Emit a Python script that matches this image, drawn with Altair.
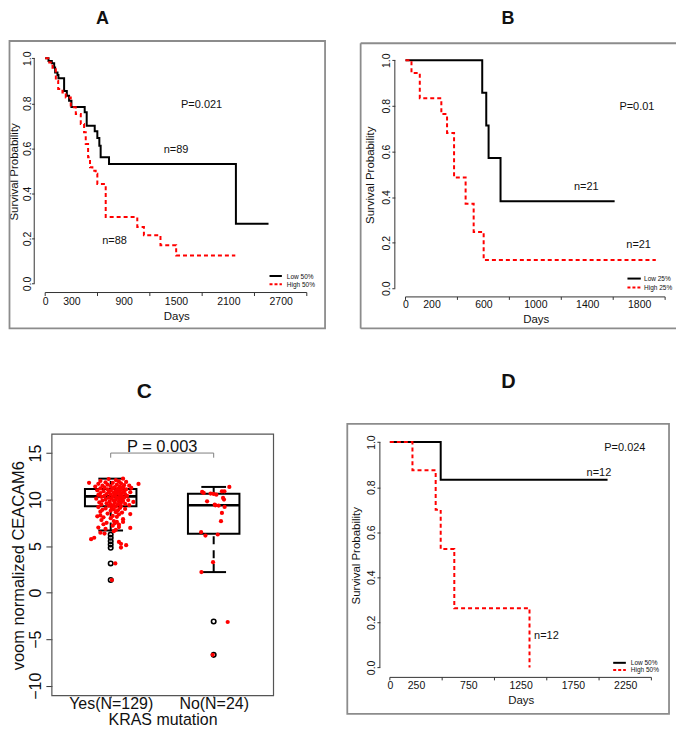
import altair as alt
import pandas as pd

FONT = "Liberation Sans"
AX = "#333333"
BORDER = "#8c8c8c"
RED = "#ff0000"

# ------------------------------------------------------------------ data
panel_letters = ["A", "B", "C", "D"]
surv_ticks = [0.0, 0.2, 0.4, 0.6, 0.8, 1.0]

# Panel A
a_groups = ["Low 50%", "High 50%"]
a_low_days = [0, 38, 76, 103, 114, 141, 152, 217, 248, 274, 301, 453, 476, 568, 598, 621, 636, 732, 2187, 2561]
a_low_surv = [1.0, 0.988, 0.978, 0.959, 0.937, 0.926, 0.911, 0.855, 0.833, 0.811, 0.784, 0.760, 0.700, 0.676,
              0.646, 0.612, 0.560, 0.531, 0.265, 0.265]
a_high_days = [0, 46, 84, 122, 149, 198, 236, 293, 351, 408, 446, 465, 492, 514, 541, 579, 598, 694, 1056, 1132,
               1322, 1502, 2180]
a_high_surv = [1.0, 0.981, 0.951, 0.900, 0.863, 0.848, 0.826, 0.782, 0.752, 0.708, 0.671, 0.619, 0.560, 0.516,
               0.501, 0.487, 0.442, 0.295, 0.251, 0.214, 0.170, 0.125, 0.125]
a_x_ticks = [0, 600, 1200, 1800, 2400, 3000]
a_x_labels = [0, 300, 900, 1500, 2100, 2700]
a_p_text = "P=0.021"
a_n_texts = ["n=89", "n=88"]

# Panel B
b_groups = ["Low 25%", "High 25%"]
b_low_days = [0, 591, 622, 640, 732, 1611]
b_low_surv = [1.0, 0.857, 0.714, 0.571, 0.381, 0.381]
b_high_days = [0, 46, 110, 276, 320, 374, 463, 525, 602, 1928]
b_high_surv = [1.0, 0.944, 0.833, 0.764, 0.681, 0.486, 0.371, 0.247, 0.124, 0.124]
b_x_ticks = [0, 400, 800, 1200, 1600, 2000]
b_x_labels = [0, 200, 600, 1000, 1400, 1800]
b_p_text = "P=0.01"
b_n_texts = ["n=21", "n=21"]

# Panel D
d_groups = ["Low 50%", "High 50%"]
d_low_days = [0, 486, 2081]
d_low_surv = [1.0, 0.833, 0.833]
d_high_days = [0, 216, 438, 486, 616, 1335]
d_high_surv = [1.0, 0.875, 0.70, 0.525, 0.263, 0.0]
d_x_ticks = [0, 500, 1000, 1500, 2000, 2500]
d_x_labels = [0, 250, 750, 1250, 1750, 2250]
d_p_text = "P=0.024"
d_n_texts = ["n=12", "n=12"]

# Panel C (boxplot)
kras_groups = ["Yes(N=129)", "No(N=24)"]
kras_pos = [1, 2]
box_q1 = [9.28, 6.32]
box_med = [10.35, 9.39]
box_q3 = [11.15, 10.64]
box_lo = [6.68, 2.21]
box_hi = [12.25, 11.36]
yes_outliers = [6.24, 5.89, 5.53, 5.18, 4.82, 3.14, 1.36]
no_outliers = [-3.1, -6.68]
c_y_ticks = [-10, -5, 0, 5, 10, 15]
c_p_text = "P = 0.003"
c_bracket_y = 15
c_bracket_leg = 14.5

yes_vals = [
    12.25, 12.2, 12.1, 12.0, 11.95, 11.9, 11.85, 11.8, 11.8, 11.75,
    11.7, 11.68, 11.6, 11.6, 11.55, 11.5, 11.5, 11.45, 11.4, 11.4,
    11.35, 11.3, 11.3, 11.25, 11.2, 11.2, 11.15, 11.1, 11.1, 11.05,
    11.0, 11.0, 10.95, 10.9, 10.9, 10.85, 10.8, 10.8, 10.75, 10.7,
    10.7, 10.65, 10.6, 10.6, 10.55, 10.5, 10.5, 10.45, 10.4, 10.4,
    10.35, 10.3, 10.3, 10.25, 10.2, 10.2, 10.15, 10.1, 10.1, 10.05,
    10.0, 10.0, 9.95, 9.9, 9.9, 9.85, 9.8, 9.8, 9.75, 9.7,
    9.7, 9.65, 9.6, 9.55, 9.5, 9.5, 9.45, 9.4, 9.4, 9.35,
    9.3, 9.25, 9.2, 9.15, 9.1, 9.05, 9.0, 8.95, 8.9, 8.85,
    8.8, 8.7, 8.65, 8.6, 8.5, 8.45, 8.4, 8.3, 8.25, 8.2,
    8.15, 8.1, 8.0, 7.9, 7.8, 7.7, 7.6, 7.5, 7.45, 7.3,
    7.2, 7.0, 6.95, 6.85, 6.75, 6.6, 6.45, 6.35, 5.9, 5.75,
    5.45, 5.25, 5.1, 4.85, 3.14, 1.36, 7.05, 7.35, 7.6]
yes_jit = [
    0.12, -0.02, 0.05, -0.10, 0.08, 0.15, -0.05, -0.21, 0.02, 0.10,
    -0.12, 0.27, 0.06, -0.03, 0.13, -0.08, 0.18, 0.00, 0.09, -0.15,
    0.04, -0.06, 0.12, 0.20, -0.10, 0.02, 0.07, -0.03, 0.15, 0.10,
    -0.13, 0.00, 0.05, -0.07, 0.13, 0.08, -0.02, 0.19, 0.03, -0.10,
    0.11, 0.06, -0.04, 0.14, 0.00, -0.12, 0.09, 0.04, -0.06, 0.16,
    0.02, 0.11, -0.09, 0.06, -0.02, 0.13, 0.08, -0.14, 0.01, 0.10,
    -0.05, 0.05, 0.17, -0.08, 0.03, 0.12, -0.01, 0.08, 0.22, -0.11,
    0.04, 0.10, -0.04, 0.14, 0.00, 0.07, -0.09, 0.18, 0.03, -0.02,
    0.10, 0.05, -0.12, 0.01, 0.09, -0.05, 0.14, 0.03, -0.08, 0.07,
    0.00, -0.10, 0.05, 0.11, -0.03, 0.19, 0.08, -0.10, 0.02, -0.13,
    0.06, -0.07, 0.00, 0.12, -0.09, 0.03, 0.06, -0.04, 0.04, 0.08,
    0.02, -0.12, 0.19, -0.05, 0.05, 0.03, -0.10, -0.06, -0.16, -0.19,
    0.08, 0.10, 0.15, 0.10, 0.045, 0.012, 0.08, -0.07, 0.12]
no_vals = [11.36, 10.82, 10.71, 10.61, 10.53, 10.89, 10.89, 10.18, 10.0, 9.82, 9.46, 9.36, 9.21, 8.57,
           7.68, 6.5, 6.14, 6.25, 3.28, 2.21, -3.15, -6.68, 9.39, 10.65]
no_jit = [0.152, -0.112, -0.097, 0.0, 0.026, 0.08, 0.104, 0.091, 0.1, -0.064, 0.01, 0.048, 0.106, 0.08,
          0.071, -0.122, -0.08, 0.039, -0.006, -0.119, 0.136, -0.01, 0.016, -0.03]

# ------------------------------------------------------------------ layout (page pixel coords)
KM = {
    "A": dict(cell=(8, 8, 336, 352), xmap=(0, 44.3, 3000, 306.7), ymap=(0, 283.3, 1, 57.3),
              yaxis_x=33.3, xaxis_y=292.3, xtick=3.5, ytick=2.7, ylab_pad=1.5, xlab_pad=0.5,
              ytitle=(14, 170.8), xtitle=(175.8, 319), border=(8.5, 40, 325, 328.3), open_right=False,
              p=(201.2, 107.3), n=[(175.5, 152.7), (113.8, 243.3)],
              legend=dict(x1=269.3, x2=281.7, ys=[275.7, 284.0], tx=286.7, tys=[278.3, 286.7]),
              letter=(101.7, 22.5, 18)),
    "B": dict(cell=(344, 8, 333, 352), xmap=(0, 405.7, 2000, 666.1), ymap=(0, 288.0, 1, 59.3),
              yaxis_x=395, xaxis_y=296.7, xtick=3, ytick=3, ylab_pad=2.5, xlab_pad=0,
              ytitle=(370.8, 174.2), xtitle=(536.3, 322.8), border=(360.7, 42.3, 677, 328.3), open_right=True,
              p=(637.8, 109.3), n=[(587, 189.3), (639.5, 247.3)],
              legend=dict(x1=628.3, x2=641.7, ys=[278.3, 287.3], tx=645, tys=[280.7, 290.0]),
              letter=(508.5, 22.5, 18)),
    "D": dict(cell=(344, 360, 333, 369), xmap=(0, 390, 2500, 652.3), ymap=(0, 668.3, 1, 442.3),
              yaxis_x=380, xaxis_y=678.3, xtick=3, ytick=3, ylab_pad=2.4, xlab_pad=0,
              ytitle=(356.7, 555.8), xtitle=(521.3, 704.5), border=(347.3, 424, 670, 715), open_right=False,
              p=(625.7, 451), n=[(599.7, 476), (547, 640)],
              legend=dict(x1=614, x2=626.7, ys=[663.7, 671.0], tx=631.7, tys=[665.7, 673.3]),
              letter=(509, 388, 20)),
}
C_L = dict(cell=(8, 360, 336, 369), xmap=(1, 110, 2, 213.3), ymap=(15, 453.3, -10, 686.7),
           frame=(51, 434.3, 273.3, 696.7), ytick=6, xtick=2, ylab_pad=5.5, xlab_base=710, xlab_size=16,
           ytitle=(17.5, 565.8), xtitle=(162, 726), xtitle_size=16, p_dy=-1.5, letter=(143.8, 398.3, 21),
           box_half=0.25, cap_half=0.12)

DUMMY = pd.DataFrame({"d": [0]})


def lin_domain(v0, p0, v1, p1, size, flip=False):
    if not flip:
        k = (p1 - p0) / (v1 - v0)
        d0 = v0 - p0 / k
        return [d0, d0 + size / k]
    kk = (p0 - p1) / (v1 - v0)
    d0 = v0 - (size - p0) / kk
    return [d0, d0 + size / kk]


def text_layer(s, x, y, size, align="center", baseline="alphabetic", weight="normal", angle=0):
    return alt.Chart(pd.DataFrame({"t": [s]})).mark_text(
        font=FONT, fontSize=size, fontWeight=weight, align=align, baseline=baseline,
        color="#111111", angle=angle).encode(text="t:N", x=alt.value(x), y=alt.value(y))


def pix_rule(x1, y1, x2, y2, color, width):
    return alt.Chart(DUMMY).mark_rule(color=color, strokeWidth=width).encode(
        x=alt.value(x1), x2=alt.value(x2), y=alt.value(y1), y2=alt.value(y2))


def km_panel(L, low_d, low_s, high_d, high_s, groups, x_ticks, x_labels, p_text, n_texts, letter):
    x0, y0, W, H = L["cell"]
    cx = lambda v: v - x0
    cy = lambda v: v - y0
    v0, p0, v1, p1 = L["xmap"]
    xs = alt.Scale(domain=lin_domain(v0, cx(p0), v1, cx(p1), W), nice=False, zero=False)
    v0, p0, v1, p1 = L["ymap"]
    ys = alt.Scale(domain=lin_domain(v0, cy(p0), v1, cy(p1), H, flip=True), nice=False, zero=False)
    yax = cx(L["yaxis_x"])
    xay = cy(L["xaxis_y"])

    x_axis = alt.Axis(values=x_labels, format="d", orient="bottom", offset=xay - H, domain=False, grid=False,
                      ticks=True, tickOpacity=0, tickSize=L["xtick"], labelPadding=L["xlab_pad"],
                      labelFont=FONT, labelFontSize=10.5, labelColor="#111111", labelFlush=False,
                      labelOverlap=False, labelBaseline="top", labelAlign="center",
                      title="Days", titleFont=FONT, titleFontSize=11.5, titleFontWeight="normal",
                      titleColor="#111111", titleX=cx(L["xtitle"][0]), titleY=cy(L["xtitle"][1]) - xay,
                      titleAlign="center", titleBaseline="alphabetic", titleAngle=0)
    y_axis = alt.Axis(values=surv_ticks, format=".1f", orient="left", offset=-yax, domain=False, grid=False,
                      ticks=True, tickSize=L["ytick"], tickColor=AX, tickWidth=1, labelPadding=L["ylab_pad"],
                      labelFont=FONT, labelFontSize=10.5, labelColor="#111111", labelFlush=False,
                      labelOverlap=False, labelAngle=270, labelAlign="center", labelBaseline="alphabetic",
                      title="Survival Probability", titleFont=FONT, titleFontSize=11.5,
                      titleFontWeight="normal", titleColor="#111111",
                      titleX=cx(L["ytitle"][0]) - yax, titleY=cy(L["ytitle"][1]),
                      titleAngle=270, titleAlign="center", titleBaseline="middle")
    X = lambda f: alt.X(f, scale=xs, axis=x_axis)
    Y = lambda f: alt.Y(f, scale=ys, axis=y_axis)

    layers = []
    # panel border
    bx1, by1, bx2, by2 = L["border"]
    if L["open_right"]:
        layers.append(pix_rule(cx(bx1), cy(by1), cx(bx1), cy(by2), BORDER, 1.8))
        layers.append(pix_rule(cx(bx1), cy(by1), cx(bx2), cy(by1), BORDER, 1.8))
        layers.append(pix_rule(cx(bx1), cy(by2), cx(bx2), cy(by2), BORDER, 1.8))
    else:
        layers.append(alt.Chart(DUMMY).mark_rect(fillOpacity=0, stroke=BORDER, strokeWidth=1.8).encode(
            x=alt.value(cx(bx1)), x2=alt.value(cx(bx2)), y=alt.value(cy(by1)), y2=alt.value(cy(by2))))

    low_df = pd.DataFrame({"day": low_d, "surv": low_s})
    high_df = pd.DataFrame({"day": high_d, "surv": high_s})
    layers.append(alt.Chart(low_df).mark_line(interpolate="step-after", color="black", strokeWidth=2).encode(
        x=X("day:Q"), y=Y("surv:Q")))
    layers.append(alt.Chart(high_df).mark_line(interpolate="step-after", color=RED, strokeWidth=2,
                                               strokeDash=[4, 3]).encode(x=X("day:Q"), y=Y("surv:Q")))

    # R-style axis lines (first to last tick) and x ticks
    layers.append(alt.Chart(pd.DataFrame({"day": [x_ticks[0]], "b": [x_ticks[-1]]})).mark_rule(
        color=AX, strokeWidth=1).encode(x=X("day:Q"), x2="b:Q", y=alt.value(xay)))
    layers.append(alt.Chart(pd.DataFrame({"day": x_ticks})).mark_rule(color=AX, strokeWidth=1).encode(
        x=X("day:Q"), y=alt.value(xay), y2=alt.value(xay + L["xtick"])))
    layers.append(alt.Chart(pd.DataFrame({"surv": [surv_ticks[0]], "b": [surv_ticks[-1]]})).mark_rule(
        color=AX, strokeWidth=1).encode(y=Y("surv:Q"), y2="b:Q", x=alt.value(yax)))

    # annotations
    layers.append(text_layer(p_text, cx(L["p"][0]), cy(L["p"][1]), 11))
    for s, (tx, ty) in zip(n_texts, L["n"]):
        layers.append(text_layer(s, cx(tx), cy(ty), 11))
    # legend
    lg = L["legend"]
    layers.append(pix_rule(cx(lg["x1"]), cy(lg["ys"][0]), cx(lg["x2"]), cy(lg["ys"][0]), "black", 2))
    layers.append(alt.Chart(DUMMY).mark_rule(color=RED, strokeWidth=2, strokeDash=[3, 2]).encode(
        x=alt.value(cx(lg["x1"])), x2=alt.value(cx(lg["x2"])), y=alt.value(cy(lg["ys"][1]))))
    for g, ty in zip(groups, lg["tys"]):
        layers.append(text_layer(g, cx(lg["tx"]), cy(ty), 6.5, align="left"))
    # panel letter
    lx, ly, ls = L["letter"]
    layers.append(text_layer(letter, cx(lx), cy(ly), ls, weight="bold"))
    return alt.layer(*layers).properties(width=W, height=H)


def box_panel(L, letter):
    x0, y0, W, H = L["cell"]
    cx = lambda v: v - x0
    cy = lambda v: v - y0
    v0, p0, v1, p1 = L["xmap"]
    xs = alt.Scale(domain=lin_domain(v0, cx(p0), v1, cx(p1), W), nice=False, zero=False)
    v0, p0, v1, p1 = L["ymap"]
    ys = alt.Scale(domain=lin_domain(v0, cy(p0), v1, cy(p1), H, flip=True), nice=False, zero=False)
    fx1, fy1, fx2, fy2 = L["frame"]
    xay = cy(fy2)
    yax = cx(fx1)

    parts = [f"datum.value == {p} ? '{g}'" for p, g in zip(kras_pos[:-1], kras_groups[:-1])]
    label_expr = " : ".join(parts + [f"'{kras_groups[-1]}'"])

    x_axis = alt.Axis(values=kras_pos, labelExpr=label_expr, orient="bottom", offset=xay - H, domain=False,
                      grid=False, ticks=True, tickSize=L["xtick"], tickColor=AX, tickWidth=1,
                      labelPadding=cy(L["xlab_base"]) - xay - L["xtick"], labelBaseline="alphabetic",
                      labelFont=FONT, labelFontSize=L["xlab_size"], labelColor="#111111", labelFlush=False,
                      labelOverlap=False, labelAlign="center",
                      title="KRAS mutation", titleFont=FONT, titleFontSize=L["xtitle_size"],
                      titleFontWeight="normal",
                      titleColor="#111111", titleX=cx(L["xtitle"][0]), titleY=cy(L["xtitle"][1]) - xay,
                      titleAlign="center", titleBaseline="alphabetic", titleAngle=0)
    y_axis = alt.Axis(values=c_y_ticks, format="d", orient="left", offset=-yax, domain=False, grid=False,
                      ticks=True, tickSize=L["ytick"], tickColor=AX, tickWidth=1, labelPadding=L["ylab_pad"],
                      labelFont=FONT, labelFontSize=16, labelColor="#111111", labelFlush=False,
                      labelOverlap=False, labelAngle=270, labelAlign="center", labelBaseline="alphabetic",
                      title="voom normalized CEACAM6", titleFont=FONT, titleFontSize=16.5,
                      titleFontWeight="normal", titleColor="#111111",
                      titleX=cx(L["ytitle"][0]) - yax, titleY=cy(L["ytitle"][1]),
                      titleAngle=270, titleAlign="center", titleBaseline="middle")

    hw, ch = L["box_half"], L["cap_half"]
    box_df = pd.DataFrame({"pos": kras_pos, "q1": box_q1, "med": box_med, "q3": box_q3,
                           "lo": box_lo, "hi": box_hi})
    box_df["l"] = box_df["pos"] - hw
    box_df["r"] = box_df["pos"] + hw
    box_df["cl"] = box_df["pos"] - ch
    box_df["cr"] = box_df["pos"] + ch
    out_df = pd.DataFrame({"pos": [kras_pos[0]] * len(yes_outliers) + [kras_pos[1]] * len(no_outliers),
                           "v": yes_outliers + no_outliers})
    pts_df = pd.DataFrame({"x": [kras_pos[0] + j for j in yes_jit] + [kras_pos[1] + j for j in no_jit],
                           "v": yes_vals + no_vals})
    br_df = pd.DataFrame({"a": [kras_pos[0]], "b": [kras_pos[1]], "y": [c_bracket_y], "leg": [c_bracket_leg],
                          "mid": [(kras_pos[0] + kras_pos[1]) / 2], "t": [c_p_text]})

    X = lambda f: alt.X(f, scale=xs, axis=x_axis)
    Y = lambda f: alt.Y(f, scale=ys, axis=y_axis)
    layers = [
        alt.Chart(DUMMY).mark_rect(fillOpacity=0, stroke="#555555", strokeWidth=1.2).encode(
            x=alt.value(cx(fx1)), x2=alt.value(cx(fx2)), y=alt.value(cy(fy1)), y2=alt.value(cy(fy2))),
        alt.Chart(box_df).mark_rect(fillOpacity=0, stroke="black", strokeWidth=2).encode(
            x=X("l:Q"), x2="r:Q", y=Y("q1:Q"), y2="q3:Q"),
        alt.Chart(box_df).mark_rule(color="black", strokeWidth=2.6).encode(x=X("l:Q"), x2="r:Q", y=Y("med:Q")),
        alt.Chart(box_df).mark_rule(color="black", strokeWidth=2, strokeDash=[8, 6]).encode(
            x=X("pos:Q"), y=Y("q3:Q"), y2="hi:Q"),
        alt.Chart(box_df).mark_rule(color="black", strokeWidth=2, strokeDash=[8, 6]).encode(
            x=X("pos:Q"), y=Y("lo:Q"), y2="q1:Q"),
        alt.Chart(box_df).mark_rule(color="black", strokeWidth=2).encode(x=X("cl:Q"), x2="cr:Q", y=Y("hi:Q")),
        alt.Chart(box_df).mark_rule(color="black", strokeWidth=2).encode(x=X("cl:Q"), x2="cr:Q", y=Y("lo:Q")),
        alt.Chart(out_df).mark_point(shape="circle", filled=False, color="black", strokeWidth=1.6,
                                     size=20, opacity=1).encode(x=X("pos:Q"), y=Y("v:Q")),
        alt.Chart(pts_df).mark_circle(color=RED, size=18, opacity=1).encode(x=X("x:Q"), y=Y("v:Q")),
        alt.Chart(br_df).mark_rule(color="#808080", strokeWidth=1).encode(x=X("a:Q"), x2="b:Q", y=Y("y:Q")),
        alt.Chart(br_df).mark_rule(color="#808080", strokeWidth=1).encode(x=X("a:Q"), y=Y("y:Q"), y2="leg:Q"),
        alt.Chart(br_df).mark_rule(color="#808080", strokeWidth=1).encode(x=X("b:Q"), y=Y("y:Q"), y2="leg:Q"),
        alt.Chart(br_df).mark_text(font=FONT, fontSize=16.5, baseline="alphabetic", align="center",
                                   dy=L["p_dy"], color="#111111").encode(x=X("mid:Q"), y=Y("y:Q"), text="t:N"),
    ]
    lx, ly, ls = L["letter"]
    layers.append(text_layer(letter, cx(lx), cy(ly), ls, weight="bold"))
    return alt.layer(*layers).properties(width=W, height=H)


pA = km_panel(KM["A"], a_low_days, a_low_surv, a_high_days, a_high_surv, a_groups, a_x_ticks, a_x_labels,
              a_p_text, a_n_texts, panel_letters[0])
pB = km_panel(KM["B"], b_low_days, b_low_surv, b_high_days, b_high_surv, b_groups, b_x_ticks, b_x_labels,
              b_p_text, b_n_texts, panel_letters[1])
pC = box_panel(C_L, panel_letters[2])
pD = km_panel(KM["D"], d_low_days, d_low_surv, d_high_days, d_high_surv, d_groups, d_x_ticks, d_x_labels,
              d_p_text, d_n_texts, panel_letters[3])

chart = alt.concat(pA, pB, pC, pD, columns=2, spacing=0, bounds="flush").resolve_scale(
    x="independent", y="independent").properties(padding=0, background="white").configure_view(stroke=None)

chart.save("out.html", embed_options={"renderer": "svg", "actions": False})
